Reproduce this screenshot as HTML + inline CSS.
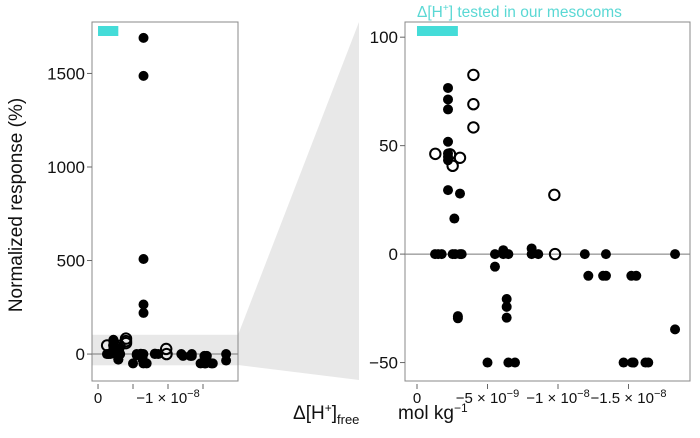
<!DOCTYPE html>
<html><head><meta charset="utf-8"><style>
html,body{margin:0;padding:0;background:#fff;}
svg{display:block;font-family:"Liberation Sans",sans-serif;}
</style></head><body>
<svg id="chart" width="700" height="438" viewBox="0 0 700 438">
<polygon points="238,335 359,22 359,380 238,365" fill="#e8e8e8"/>
<g id="left"></g>
<g id="right"></g>
<text x="22" y="205" font-size="19" text-anchor="middle" transform="rotate(-90 22 205)" fill="#111">Normalized response (%)</text>
<text x="293" y="419" font-size="19" fill="#111">Δ[H<tspan font-size="12" dy="-7">+</tspan><tspan dy="7">]</tspan><tspan font-size="13" dy="5">free</tspan></text>
<text x="398" y="419" font-size="19" fill="#111">mol kg<tspan font-size="12" dy="-7">−1</tspan></text>
<text x="417" y="17" font-size="15.5" fill="#5ad8d4">Δ[H<tspan font-size="10" dy="-6">+</tspan><tspan dy="6">] tested in our mesocoms</tspan></text>
</svg>
<script>
// x in units of -1e-9 mol/kg, y in %
const filledX = [2.2,2.2,2.2,2.2,2.2,2.2,2.2,2.2,3.05,2.65,1.28,1.5,1.75,2.53,2.7,3.05,3.17,5.53,6.12,6.48,8.13,8.6,11.9,13.4,18.3,6.12,8.13,5.53,2.9,2.9,6.36,6.36,6.36,5.0,6.48,6.95,12.15,13.2,13.4,15.2,15.55,14.65,15.25,15.36,16.2,16.4,18.3,6.5,6.5,6.5,6.5,6.5];
const filledY = [76.6,71.3,66.7,51.8,46.4,44.8,43.3,29.5,27.9,16.4,0,0,0,0,0,0,0,0,0,0,0,0,0,0,0,1.8,2.6,-5.8,-28.6,-29.6,-20.7,-24.3,-29.3,-50,-50,-50,-10,-10,-10,-10,-10,-50,-50,-50,-50,-50,-34.7,1690,1487,508,265,220];
const openX = [1.3,4.0,4.0,4.0,2.34,2.53,3.05,9.74,9.79];
const openY = [46.2,82.6,69.1,58.4,46,40.7,44.4,27.3,0];
const leftYTicks = [0,500,1000,1500];
const rightYTicks = [-50,0,50,100];
const leftXTicks = [0,5,10,15];
const leftXLabels = [["0",""],["",""],["−1 × 10","−8"],["",""]];
const rightXTicks = [0,5,10,15];
const rightXLabels = [["0",""],["−5 × 10","−9"],["−1 × 10","−8"],["−1.5 × 10","−8"]];
const bandRange = [0,2.9];

const NS="http://www.w3.org/2000/svg";
function mk(tag,attrs,parent){const e=document.createElementNS(NS,tag);for(const k in attrs)e.setAttribute(k,attrs[k]);parent.appendChild(e);return e;}

function panel(g,cfg){
  const {x0,x1,y0,y1,xmin,xmax,ymin,ymax,pre}=cfg;
  const sx=v=>x0+(v-xmin)/(xmax-xmin)*(x1-x0);
  const sy=v=>y1-(v-ymin)/(ymax-ymin)*(y1-y0);
  const cid='clip-'+pre;
  const cp=mk('clipPath',{id:cid},g);mk('rect',{x:x0,y:y0,width:x1-x0,height:y1-y0},cp);
  if(cfg.band){const b=mk('rect',{x:x0,y:sy(cfg.band[1]),width:x1-x0,height:sy(cfg.band[0])-sy(cfg.band[1]),fill:'#e8e8e8'},g);
    
    }
  const z=mk('line',{x1:x0,x2:x1,y1:sy(0),y2:sy(0),stroke:'#777','stroke-width':1},g);
  
  
  const cy=mk('rect',{x:sx(bandRange[0]),y:cfg.cyanY,width:sx(bandRange[1])-sx(bandRange[0]),height:10,fill:'#44dcd8'},g);
  
  
  const pts=mk('g',{'clip-path':'url(#'+cid+')'},g);
  filledX.forEach((v,i)=>{const c=mk('circle',{cx:sx(v),cy:sy(filledY[i]),r:5,fill:'#000'},pts);
    
    });
  openX.forEach((v,i)=>{const c=mk('circle',{cx:sx(v),cy:sy(openY[i]),r:5.2,fill:'none',stroke:'#000','stroke-width':2},pts);
    
    });
  const fr=mk('rect',{x:x0,y:y0,width:x1-x0,height:y1-y0,fill:'none',stroke:'#888','stroke-width':1},g);
  
  
  cfg.yt.forEach(t=>{const y=sy(t);
    mk('line',{x1:x0-5,x2:x0,y1:y,y2:y,stroke:'#666'},g);
    const tx=mk('text',{x:x0-7,y:y+6,'font-size':17,'text-anchor':'end',fill:'#111'},g);tx.textContent=String(t).replace('-','−');
    
    });
  cfg.xt.forEach((t,i)=>{const x=sx(t);
    mk('line',{x1:x,x2:x,y1:y1+3,y2:y1+8,stroke:'#666'},g);
    const tx=mk('text',{x:x,y:y1+22,'font-size':15,'text-anchor':'middle',fill:'#111'},g);
    
    
    const l=cfg.xl[i];
    const a=mk('tspan',{},tx);a.textContent=l[0];
    if(l[1]){const b=mk('tspan',{'font-size':11,dy:-6},tx);b.textContent=l[1];}
  });
}
panel(document.getElementById('left'),{pre:'l',x0:92,x1:238,y0:22,y1:381,xmin:-0.86,xmax:20,ymin:-144,ymax:1775,yt:leftYTicks,xt:leftXTicks,xl:leftXLabels,band:[-60,103],cyanY:26});
panel(document.getElementById('right'),{pre:'r',x0:405,x1:690,y0:22,y1:381,xmin:-0.85,xmax:19.36,ymin:-58.5,ymax:107,yt:rightYTicks,xt:rightXTicks,xl:rightXLabels,cyanY:26});
</script>
</body></html>
